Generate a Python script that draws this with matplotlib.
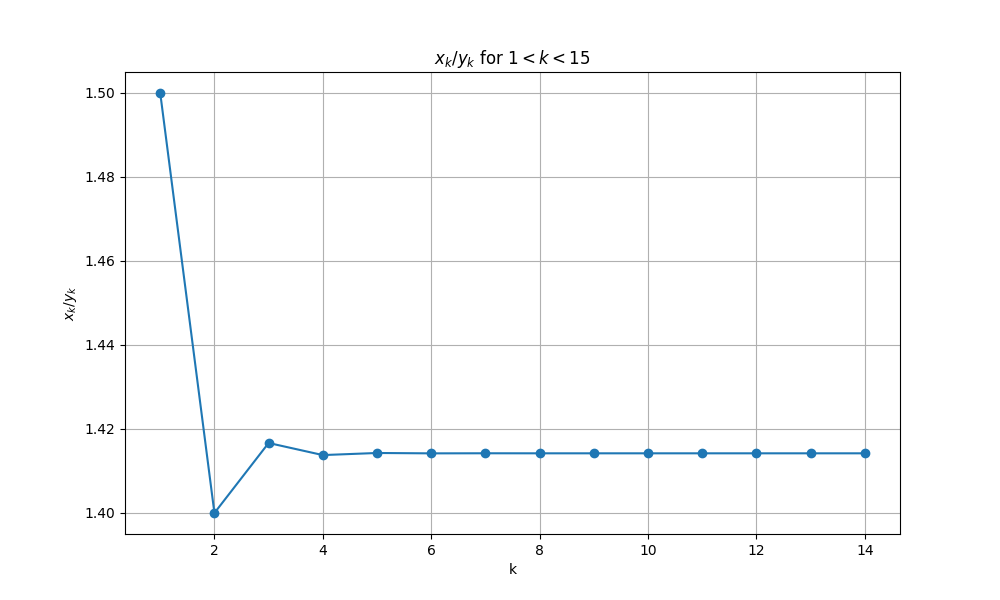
import matplotlib
matplotlib.use('Agg')
import matplotlib.pyplot as plt

k = [1, 2, 3, 4, 5, 6, 7, 8, 9, 10, 11, 12, 13, 14]
ratio = [1.5, 1.4, 1.41667, 1.41379, 1.41429, 1.41420, 1.41422, 1.41421,
         1.41421, 1.41421, 1.41421, 1.41421, 1.41421, 1.41421]

plt.figure(figsize=(10, 6))
plt.plot(k, ratio, marker='o')
plt.title('$x_k/y_k$ for $1 < k < 15$')
plt.xlabel('k')
plt.ylabel('$x_k/y_k$')
plt.grid(True)
plt.savefig('out.png', dpi=100)
